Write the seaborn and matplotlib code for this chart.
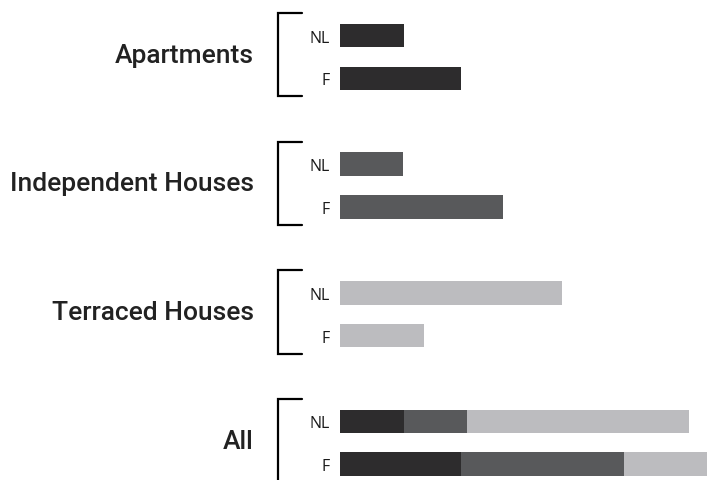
import pandas as pd
import numpy as np
import seaborn as sns
import matplotlib.pyplot as plt
from matplotlib.transforms import blended_transform_factory

# datos
groups = ["Apartments", "Independent Houses", "Terraced Houses"]
series = ["NL", "F"]
nl_values = [64, 63, 222]
f_values = [121, 163, 84]
all_label = "All"

colors = {"Apartments": "#2d2c2d",
          "Independent Houses": "#58595b",
          "Terraced Houses": "#bbbcbf"}

values = {"NL": dict(zip(groups, nl_values)), "F": dict(zip(groups, f_values))}

#%%
# tabla larga: una fila por barra y por tipo, con valores acumulados (apilado)
rows = []
order = []
for i, g in enumerate(groups + [all_label]):
    incluidos = groups if g == all_label else [g]
    for s in series:
        fila = f"{g}|{s}"
        order.append(fila)
        acum = 0
        for t in groups:
            if t in incluidos:
                acum += values[s][t]
            rows.append({"fila": fila, "tipo": t, "valor": acum})
    if g != all_label:
        order.append(f"hueco{i}")
df = pd.DataFrame(rows)

#%%
sns.set_style("white")
plt.rcParams['font.family'] = ['Roboto', 'DejaVu Sans']

fig = plt.figure(figsize=(7.07, 4.81), dpi=100)
ax = fig.add_axes([340 / 707, 0, 1 - 340 / 707, 1])

sns.barplot(data=df, x="valor", y="fila", hue="tipo", order=order,
            hue_order=groups[::-1], palette=colors, dodge=False,
            width=0.55, linewidth=0, errorbar=None, legend=False,
            orient="h", ax=ax)

ax.set_xlim(0, 367)
ax.set_ylim(10.37, -0.854)
ax.set_xlabel("")
ax.set_ylabel("")
ax.set_xticks([])
sns.despine(ax=ax, left=True, bottom=True)

pos = [order.index(f) for f in order if "|" in f]
ax.set_yticks(pos, [f.split("|")[1] for f in order if "|" in f],
              fontfamily="Open Sans", fontsize=11.5, color="#1a1a1a")
ax.tick_params(axis="y", length=0, pad=7.5)

# corchetes y nombres de grupo
tr = blended_transform_factory(fig.transFigure, ax.transData)
x_linea, x_fin = 278 / 707, 302 / 707
for g in groups + [all_label]:
    arriba = order.index(f"{g}|NL") - 0.52
    abajo = order.index(f"{g}|F") + 0.42
    ax.plot([x_fin, x_linea, x_linea, x_fin], [arriba, arriba, abajo, abajo],
            color="black", lw=1.6, transform=tr, clip_on=False,
            solid_joinstyle="miter")
    ax.text(254 / 707, (arriba + abajo) / 2, g, transform=tr, ha="right",
            va="center", fontsize=19, fontweight="medium", color="#222222")

fig.savefig("out.png", dpi=100)
